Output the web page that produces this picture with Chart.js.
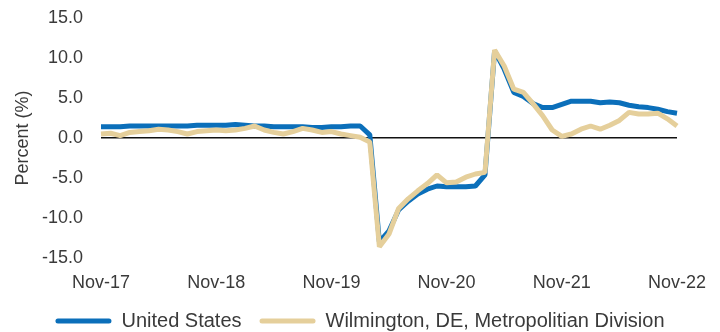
<!DOCTYPE html>
<html>
<head>
<meta charset="utf-8">
<script src="https://cdn.jsdelivr.net/npm/chart.js@4/dist/chart.umd.min.js"></script>
<style>
  html, body { margin: 0; padding: 0; background: #ffffff; }
  #wrap { width: 720px; height: 332px; }
</style>
</head>
<body>
<div id="wrap"><canvas id="c" width="720" height="332"></canvas></div>
<script>
const months = [
  'Nov-17','Dec-17','Jan-18','Feb-18','Mar-18','Apr-18','May-18','Jun-18','Jul-18','Aug-18','Sep-18','Oct-18',
  'Nov-18','Dec-18','Jan-19','Feb-19','Mar-19','Apr-19','May-19','Jun-19','Jul-19','Aug-19','Sep-19','Oct-19',
  'Nov-19','Dec-19','Jan-20','Feb-20','Mar-20','Apr-20','May-20','Jun-20','Jul-20','Aug-20','Sep-20','Oct-20',
  'Nov-20','Dec-20','Jan-21','Feb-21','Mar-21','Apr-21','May-21','Jun-21','Jul-21','Aug-21','Sep-21','Oct-21',
  'Nov-21','Dec-21','Jan-22','Feb-22','Mar-22','Apr-22','May-22','Jun-22','Jul-22','Aug-22','Sep-22','Oct-22',
  'Nov-22'
];

const unitedStates = [
  1.4, 1.4, 1.4, 1.5, 1.5, 1.5, 1.5, 1.5, 1.5, 1.5, 1.6, 1.6,
  1.6, 1.6, 1.7, 1.6, 1.5, 1.5, 1.4, 1.4, 1.4, 1.4, 1.3, 1.3,
  1.4, 1.4, 1.5, 1.5, 0.4, -13.0, -11.6, -9.0, -7.9, -7.0, -6.4, -6.0,
  -6.1, -6.1, -6.1, -6.0, -4.6, 10.9, 8.6, 5.7, 5.2, 4.3, 3.8, 3.8,
  4.2, 4.6, 4.6, 4.6, 4.4, 4.5, 4.4, 4.1, 3.9, 3.8, 3.6, 3.3,
  3.1
];

const wilmington = [
  0.5, 0.6, 0.3, 0.7, 0.8, 0.9, 1.1, 1.0, 0.8, 0.5, 0.8, 0.9,
  1.0, 0.9, 1.0, 1.2, 1.5, 1.0, 0.7, 0.5, 0.8, 1.2, 1.0, 0.7,
  0.8, 0.5, 0.3, 0.1, -0.5, -13.6, -12.0, -8.8, -7.6, -6.6, -5.7, -4.6,
  -5.6, -5.5, -4.9, -4.5, -4.3, 11.0, 9.0, 6.1, 5.7, 4.3, 2.8, 1.0,
  0.2, 0.5, 1.1, 1.5, 1.1, 1.6, 2.2, 3.2, 3.0, 3.0, 3.1, 2.4,
  1.5
];

const seriesNames = ['United States', 'Wilmington, DE, Metropolitian Division'];
const yTicks = [-15, -10, -5, 0, 5, 10, 15];

const BLUE = '#0b6fba';
const TAN = '#e5cf9b';
const TEXT = '#3a3a3a';
const FONT = "'Liberation Sans', Arial, sans-serif";

new Chart(document.getElementById('c'), {
  type: 'line',
  data: {
    labels: months,
    datasets: [
      {
        label: seriesNames[1],
        data: wilmington,
        borderColor: TAN,
        backgroundColor: TAN,
        borderWidth: 5,
        pointRadius: 0,
        tension: 0,
        borderJoinStyle: 'bevel',
        fill: false
      },
      {
        label: seriesNames[0],
        data: unitedStates,
        borderColor: BLUE,
        backgroundColor: BLUE,
        borderWidth: 5,
        pointRadius: 0,
        tension: 0,
        borderJoinStyle: 'bevel',
        fill: false
      }
    ]
  },
  options: {
    responsive: false,
    animation: false,
    layout: { padding: { top: 18, right: 0, left: 0, bottom: 0 } },
    plugins: {
      tooltip: { enabled: false },
      legend: {
        position: 'bottom',
        maxHeight: 39,
        labels: {
          color: TEXT,
          font: { family: FONT, size: 20 },
          boxWidth: 56,
          boxHeight: 5,
          padding: 18,
          useBorderRadius: true,
          borderRadius: 2.5,
          sort: (a, b) => b.datasetIndex - a.datasetIndex,
          generateLabels: (chart) => {
            const items = Chart.defaults.plugins.legend.labels.generateLabels(chart);
            items.forEach(it => { it.lineWidth = 0; it.strokeStyle = 'rgba(0,0,0,0)'; });
            return items;
          }
        }
      }
    },
    scales: {
      x: {
        type: 'category',
        offset: false,
        afterFit: (s) => { s.height = 35; s.paddingLeft = 0; s.paddingRight = 0; },
        grid: { display: false, drawTicks: false },
        border: { display: false },
        ticks: {
          color: TEXT,
          font: { family: FONT, size: 18 },
          padding: 14,
          autoSkip: false,
          maxRotation: 0,
          minRotation: 0,
          callback: function(val, idx) {
            return idx % 12 === 0 ? this.getLabelForValue(val) : null;
          }
        }
      },
      y: {
        min: yTicks[0],
        max: yTicks[yTicks.length - 1],
        afterFit: (s) => { s.width = 101; s.paddingTop = 0; s.paddingBottom = 0; },
        afterBuildTicks: (s) => { s.ticks = yTicks.map(v => ({ value: v })); },
        grid: {
          drawTicks: false,
          color: (ctx) => (ctx.tick && ctx.tick.value === 0) ? '#111111' : 'rgba(0,0,0,0)',
          lineWidth: 1.5
        },
        border: { display: false },
        ticks: {
          color: TEXT,
          font: { family: FONT, size: 18 },
          padding: 18,
          callback: (v) => Number(v).toFixed(1)
        },
        title: {
          display: true,
          text: 'Percent (%)',
          color: TEXT,
          font: { family: FONT, size: 18 },
          padding: { top: 12, bottom: 0 }
        }
      },
      yRight: {
        position: 'right',
        display: true,
        afterFit: (s) => { s.width = 43; s.paddingTop = 0; s.paddingBottom = 0; },
        grid: { display: false, drawTicks: false },
        border: { display: false },
        ticks: { display: false }
      }
    }
  }
});
</script>
</body>
</html>
